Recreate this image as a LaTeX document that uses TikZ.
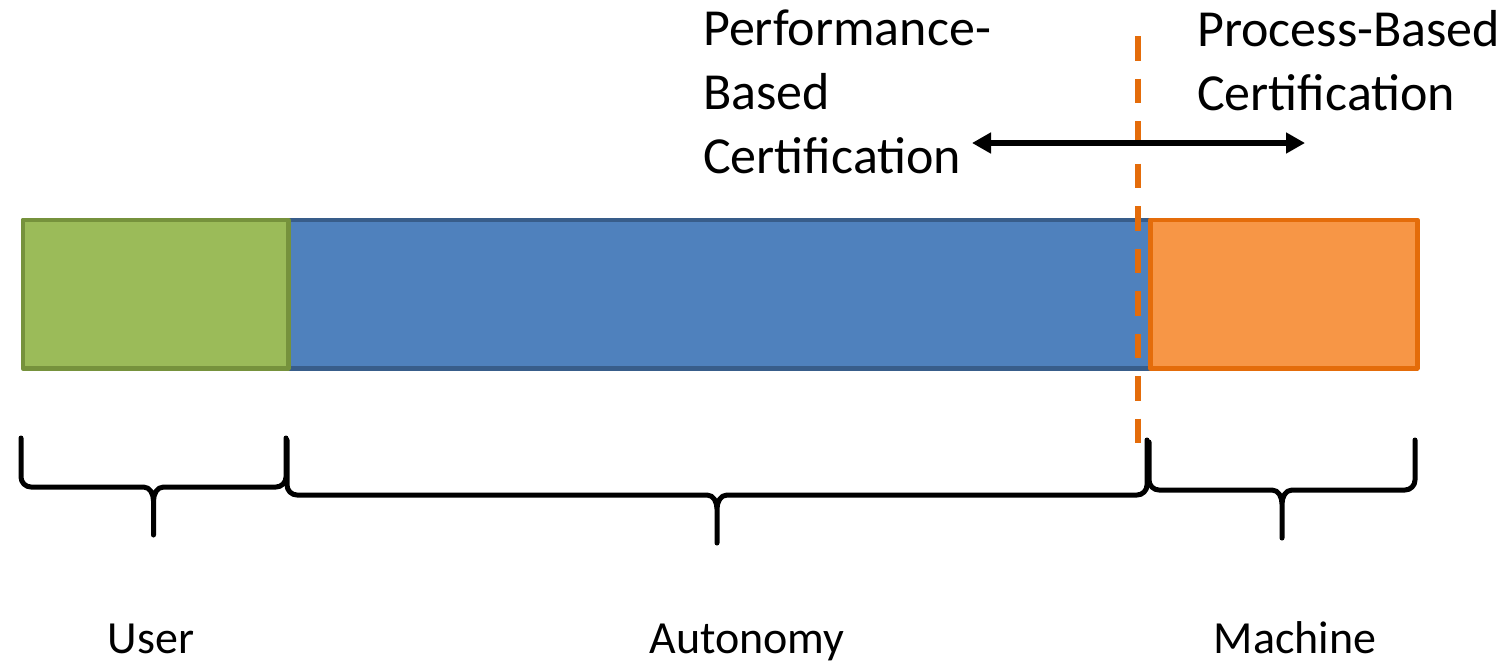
\documentclass[tikz,border=0pt]{standalone}
\usepackage{fontspec}
\setmainfont{Carlito}
\usepackage{xcolor}
\usepackage{tikz}
\usetikzlibrary{arrows.meta, positioning}
\definecolor{lvlGreen}{HTML}{9BBB59}
\definecolor{lvlGreenLine}{HTML}{76923C}
\definecolor{lvlBlue}{HTML}{4F81BD}
\definecolor{lvlBlueLine}{HTML}{385D8A}
\definecolor{lvlOrange}{HTML}{F79646}
\definecolor{lvlOrangeLine}{HTML}{E46C0A}
\tikzset{
  lvl/bar/.style      = {rectangle, line width=4.5pt, line join=round, inner sep=0pt,
                         anchor=north west, minimum height=148.5pt},
  lvl/user/.style     = {lvl/bar, fill=lvlGreen,  draw=lvlGreenLine},
  lvl/autonomy/.style = {lvl/bar, fill=lvlBlue,   draw=lvlBlueLine},
  lvl/machine/.style  = {lvl/bar, fill=lvlOrange, draw=lvlOrangeLine},
  lvl/divider/.style  = {draw=lvlOrangeLine, line width=6pt, dash pattern=on 24.5pt off 18pt},
  lvl/arrow/.style    = {{Triangle[length=19pt, width=20pt]}-{Triangle[length=19pt, width=20pt]},
                         line width=5.5pt, draw=black},
  lvl/brace/.style    = {draw=black, line width=5pt, line cap=round, line join=round},
  lvl/text/.style     = {font=\fontsize{52}{64}\selectfont, inner sep=0pt},
  lvl/label/.style    = {font=\fontsize{46}{56}\selectfont, inner sep=0pt, anchor=base},
}

\begin{document}
\begin{tikzpicture}[x=1pt, y=-1pt]
  \useasboundingbox (0,0) rectangle (1509,662);
  % autonomy scale
  \node[lvl/autonomy, minimum width=862pt]   (autonomy) at (286,217.5) {};
  \node[lvl/user,     minimum width=265.5pt] (user)     at (20.5,217.5) {};
  \node[lvl/machine,  minimum width=267pt]   (machine)  at (1148,217.5) {};
  % certification split
  \coordinate (divtop) at (1138,36);
  \coordinate (divbot) at (1138,443);
  \draw[lvl/divider] (divtop) -- (divbot);
  \coordinate (certleft)  at (972,143);
  \coordinate (certright) at (1305,143);
  \draw[lvl/arrow] (certleft) -- (certright);
  \node[lvl/text, anchor=north west, align=left] (perf) at (703,10)
        {Performance-\\Based\\Certification};
  \node[lvl/text, anchor=north west, align=left] (proc) at (1197,10)
        {Process-Based\\Certification};
  % braces
  \draw[lvl/brace] (21,438) -- (21,477) to[out=-90,in=180] (31,487) -- (143.5,487)
        to[out=0,in=90] (153.5,501) -- (153.5,535) -- (153.5,501)
        to[out=90,in=180] (163.5,487) -- (276,487) to[out=0,in=-90] (286,477) -- (286,438);
  \draw[lvl/brace] (287,440) -- (287,485) to[out=-90,in=180] (297,495) -- (707,495)
        to[out=0,in=90] (717,509) -- (717,543) -- (717,509)
        to[out=90,in=180] (727,495) -- (1137,495) to[out=0,in=-90] (1147,485) -- (1147,440);
  \draw[lvl/brace] (1149,442) -- (1149,480) to[out=-90,in=180] (1159,490) -- (1272,490)
        to[out=0,in=90] (1282,504) -- (1282,538) -- (1282,504)
        to[out=90,in=180] (1292,490) -- (1405,490) to[out=0,in=-90] (1415,480) -- (1415,440);
  % labels
  \node[lvl/label] (userlbl)     at (151,653)  {User};
  \node[lvl/label] (autonomylbl) at (747,653)  {Autonomy};
  \node[lvl/label] (machinelbl)  at (1295,653) {Machine};
\end{tikzpicture}
\end{document}
